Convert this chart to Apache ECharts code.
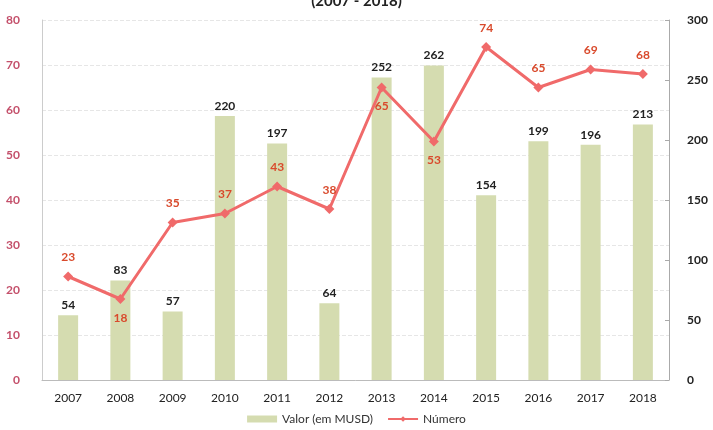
<!DOCTYPE html>
<html><head><meta charset="utf-8">
<script src="https://cdn.jsdelivr.net/npm/echarts@6/dist/echarts.min.js"></script>
<style>html,body{margin:0;padding:0;background:#fff}#c{width:713px;height:430px}</style>
</head><body><div id="c"></div>
<script>
const years = ['2007','2008','2009','2010','2011','2012','2013','2014','2015','2016','2017','2018'];
const valor = [54,83,57,220,197,64,252,262,154,199,196,213];
const numero = [23,18,35,37,43,38,65,53,74,65,69,68];
const belowLabels = ['2008','2013','2014'];

const chart = echarts.init(document.getElementById('c'));
const font = 'Lato, "Open Sans", sans-serif';
chart.setOption({
  animation:false,
  title:{text:'(2007 - 2018)',left:'center',top:-11,textStyle:{fontFamily:font,fontSize:15,fontWeight:'bold',color:'#222'}},
  grid:{left:42,right:44,top:20,bottom:50},
  legend:{bottom:0,left:'center',itemGap:14,itemWidth:30,itemHeight:7,
    textStyle:{fontFamily:font,fontSize:12,color:'#333'},
    data:[{name:'Valor (em MUSD)',icon:'rect'},{name:'Número'}]},
  xAxis:{type:'category',data:years,
    axisLine:{lineStyle:{color:'#bbb'}},axisTick:{show:false},
    axisLabel:{fontFamily:font,fontSize:12,color:'#222',margin:12}},
  yAxis:[
    {type:'value',min:0,max:80,interval:10,position:'left',
     axisLine:{show:true,lineStyle:{color:'#ccc'}},axisTick:{show:false},
     axisLabel:{fontFamily:font,fontSize:12,fontWeight:'bold',color:'#c4506b',margin:22},
     splitLine:{show:true,lineStyle:{color:'#e6e6e6',type:'dashed'}}},
    {type:'value',min:0,max:300,interval:50,position:'right',
     axisLine:{show:true,lineStyle:{color:'#aaa'}},axisTick:{show:true,length:4,inside:true,lineStyle:{color:'#aaa'}},
     axisLabel:{fontFamily:font,fontSize:12,fontWeight:'bold',color:'#222',margin:18},
     splitLine:{show:false}}
  ],
  series:[
    {name:'Valor (em MUSD)',type:'bar',yAxisIndex:1,data:valor,barWidth:20,
     itemStyle:{color:'#d5dcb0'},
     label:{show:true,position:'top',distance:4,fontFamily:font,fontSize:12,fontWeight:'bold',color:'#222'}},
    {name:'Número',type:'line',yAxisIndex:0,
     data:numero.map((v,i)=>({value:v,label:{position:belowLabels.includes(years[i])?'bottom':'top'}})),
     symbol:'diamond',symbolSize:10,
     lineStyle:{color:'#f06a6a',width:3},itemStyle:{color:'#f06a6a'},
     label:{show:true,distance:8,fontFamily:font,fontSize:12,fontWeight:'bold',color:'#d94a2c'}}
  ]
});
</script></body></html>
